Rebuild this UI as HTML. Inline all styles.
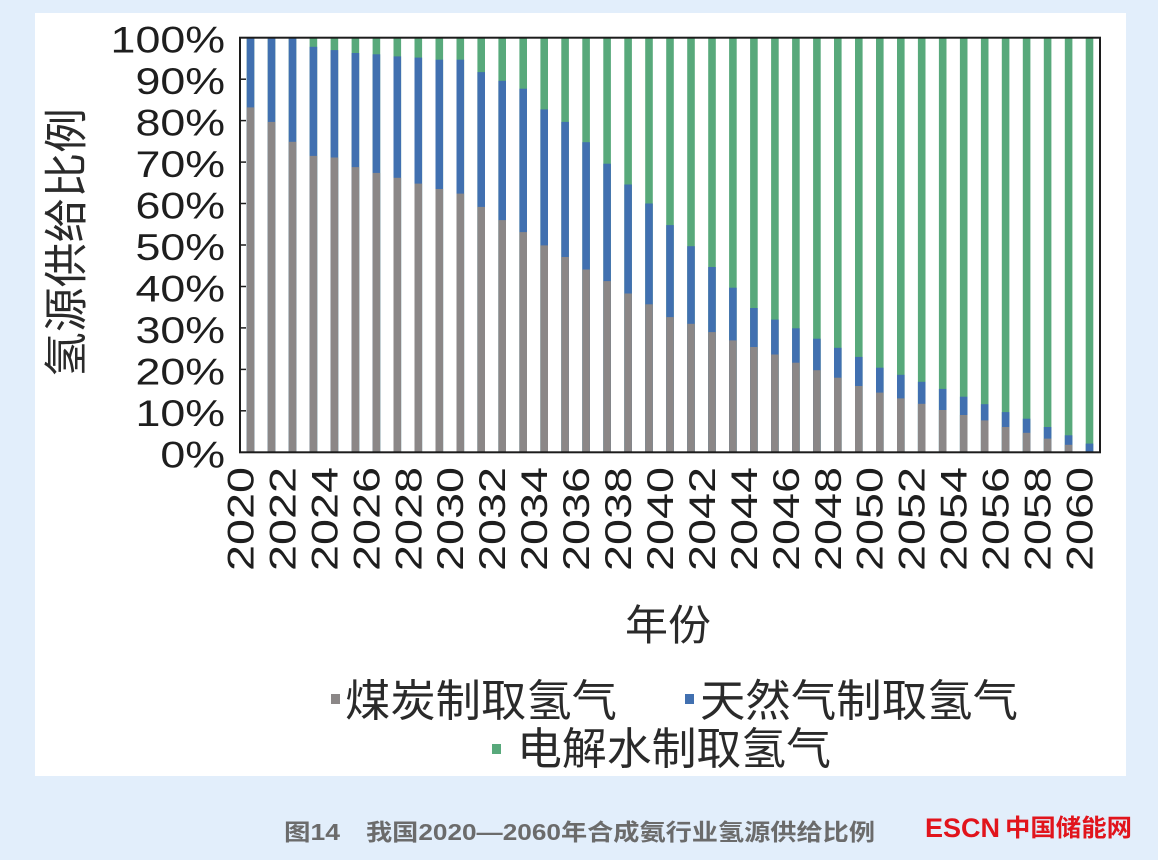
<!DOCTYPE html>
<html><head><meta charset="utf-8"><style>
html,body{margin:0;padding:0;background:#e2eefb;}
svg{display:block;}
.cjk{font-family:"Liberation Sans","Noto Sans CJK SC",sans-serif;}
.num{font-family:"Liberation Sans",sans-serif;}
</style></head><body>
<svg width="1158" height="860" viewBox="0 0 1158 860" xmlns="http://www.w3.org/2000/svg">
<rect x="0" y="0" width="1158" height="860" fill="#e2eefb"/>
<rect x="35" y="13" width="1091" height="763" fill="#ffffff"/>

<!-- green full bars -->
<g fill="#58a97b">
<rect x="246.7" y="37.7" width="7.6" height="414.6"/><rect x="267.7" y="37.7" width="7.6" height="414.6"/><rect x="288.7" y="37.7" width="7.6" height="414.6"/><rect x="309.6" y="37.7" width="7.6" height="414.6"/><rect x="330.6" y="37.7" width="7.6" height="414.6"/><rect x="351.6" y="37.7" width="7.6" height="414.6"/><rect x="372.6" y="37.7" width="7.6" height="414.6"/><rect x="393.5" y="37.7" width="7.6" height="414.6"/><rect x="414.5" y="37.7" width="7.6" height="414.6"/><rect x="435.5" y="37.7" width="7.6" height="414.6"/><rect x="456.5" y="37.7" width="7.6" height="414.6"/><rect x="477.4" y="37.7" width="7.6" height="414.6"/><rect x="498.4" y="37.7" width="7.6" height="414.6"/><rect x="519.4" y="37.7" width="7.6" height="414.6"/><rect x="540.4" y="37.7" width="7.6" height="414.6"/><rect x="561.3" y="37.7" width="7.6" height="414.6"/><rect x="582.3" y="37.7" width="7.6" height="414.6"/><rect x="603.3" y="37.7" width="7.6" height="414.6"/><rect x="624.3" y="37.7" width="7.6" height="414.6"/><rect x="645.2" y="37.7" width="7.6" height="414.6"/><rect x="666.2" y="37.7" width="7.6" height="414.6"/><rect x="687.2" y="37.7" width="7.6" height="414.6"/><rect x="708.2" y="37.7" width="7.6" height="414.6"/><rect x="729.1" y="37.7" width="7.6" height="414.6"/><rect x="750.1" y="37.7" width="7.6" height="414.6"/><rect x="771.1" y="37.7" width="7.6" height="414.6"/><rect x="792.1" y="37.7" width="7.6" height="414.6"/><rect x="813.1" y="37.7" width="7.6" height="414.6"/><rect x="834.0" y="37.7" width="7.6" height="414.6"/><rect x="855.0" y="37.7" width="7.6" height="414.6"/><rect x="876.0" y="37.7" width="7.6" height="414.6"/><rect x="897.0" y="37.7" width="7.6" height="414.6"/><rect x="917.9" y="37.7" width="7.6" height="414.6"/><rect x="938.9" y="37.7" width="7.6" height="414.6"/><rect x="959.9" y="37.7" width="7.6" height="414.6"/><rect x="980.9" y="37.7" width="7.6" height="414.6"/><rect x="1001.8" y="37.7" width="7.6" height="414.6"/><rect x="1022.8" y="37.7" width="7.6" height="414.6"/><rect x="1043.8" y="37.7" width="7.6" height="414.6"/><rect x="1064.8" y="37.7" width="7.6" height="414.6"/><rect x="1085.7" y="37.7" width="7.6" height="414.6"/>
</g>
<!-- blue -->
<g fill="#4170b0">
<rect x="246.7" y="37.7" width="7.6" height="414.6"/><rect x="267.7" y="37.7" width="7.6" height="414.6"/><rect x="288.7" y="37.7" width="7.6" height="414.6"/><rect x="309.6" y="46.8" width="7.6" height="405.5"/><rect x="330.6" y="50.1" width="7.6" height="402.2"/><rect x="351.6" y="53.0" width="7.6" height="399.3"/><rect x="372.6" y="54.3" width="7.6" height="398.0"/><rect x="393.5" y="56.4" width="7.6" height="395.9"/><rect x="414.5" y="57.6" width="7.6" height="394.7"/><rect x="435.5" y="59.7" width="7.6" height="392.6"/><rect x="456.5" y="59.7" width="7.6" height="392.6"/><rect x="477.4" y="72.1" width="7.6" height="380.2"/><rect x="498.4" y="80.8" width="7.6" height="371.5"/><rect x="519.4" y="88.7" width="7.6" height="363.6"/><rect x="540.4" y="109.4" width="7.6" height="342.9"/><rect x="561.3" y="121.9" width="7.6" height="330.4"/><rect x="582.3" y="142.2" width="7.6" height="310.1"/><rect x="603.3" y="163.7" width="7.6" height="288.6"/><rect x="624.3" y="184.5" width="7.6" height="267.8"/><rect x="645.2" y="203.5" width="7.6" height="248.8"/><rect x="666.2" y="225.1" width="7.6" height="227.2"/><rect x="687.2" y="246.2" width="7.6" height="206.1"/><rect x="708.2" y="267.0" width="7.6" height="185.3"/><rect x="729.1" y="287.7" width="7.6" height="164.6"/><rect x="750.1" y="308.0" width="7.6" height="144.3"/><rect x="771.1" y="319.6" width="7.6" height="132.7"/><rect x="792.1" y="328.3" width="7.6" height="124.0"/><rect x="813.1" y="338.7" width="7.6" height="113.6"/><rect x="834.0" y="347.8" width="7.6" height="104.5"/><rect x="855.0" y="356.9" width="7.6" height="95.4"/><rect x="876.0" y="367.7" width="7.6" height="84.6"/><rect x="897.0" y="374.8" width="7.6" height="77.5"/><rect x="917.9" y="381.8" width="7.6" height="70.5"/><rect x="938.9" y="388.9" width="7.6" height="63.4"/><rect x="959.9" y="396.7" width="7.6" height="55.6"/><rect x="980.9" y="404.2" width="7.6" height="48.1"/><rect x="1001.8" y="412.1" width="7.6" height="40.2"/><rect x="1022.8" y="418.7" width="7.6" height="33.6"/><rect x="1043.8" y="427.0" width="7.6" height="25.3"/><rect x="1064.8" y="435.3" width="7.6" height="17.0"/><rect x="1085.7" y="443.6" width="7.6" height="8.7"/>
</g>
<!-- gray -->
<g fill="#8b8787">
<rect x="246.7" y="107.4" width="7.6" height="344.9"/><rect x="267.7" y="121.9" width="7.6" height="330.4"/><rect x="288.7" y="141.8" width="7.6" height="310.5"/><rect x="309.6" y="155.9" width="7.6" height="296.4"/><rect x="330.6" y="157.5" width="7.6" height="294.8"/><rect x="351.6" y="167.1" width="7.6" height="285.2"/><rect x="372.6" y="172.9" width="7.6" height="279.4"/><rect x="393.5" y="177.8" width="7.6" height="274.5"/><rect x="414.5" y="183.6" width="7.6" height="268.7"/><rect x="435.5" y="189.0" width="7.6" height="263.3"/><rect x="456.5" y="193.6" width="7.6" height="258.7"/><rect x="477.4" y="206.9" width="7.6" height="245.4"/><rect x="498.4" y="220.1" width="7.6" height="232.2"/><rect x="519.4" y="232.1" width="7.6" height="220.2"/><rect x="540.4" y="245.4" width="7.6" height="206.9"/><rect x="561.3" y="257.0" width="7.6" height="195.3"/><rect x="582.3" y="269.5" width="7.6" height="182.8"/><rect x="603.3" y="281.1" width="7.6" height="171.2"/><rect x="624.3" y="293.5" width="7.6" height="158.8"/><rect x="645.2" y="304.3" width="7.6" height="148.0"/><rect x="666.2" y="317.1" width="7.6" height="135.2"/><rect x="687.2" y="323.8" width="7.6" height="128.5"/><rect x="708.2" y="332.1" width="7.6" height="120.2"/><rect x="729.1" y="340.4" width="7.6" height="111.9"/><rect x="750.1" y="347.0" width="7.6" height="105.3"/><rect x="771.1" y="354.5" width="7.6" height="97.8"/><rect x="792.1" y="362.7" width="7.6" height="89.6"/><rect x="813.1" y="370.2" width="7.6" height="82.1"/><rect x="834.0" y="377.7" width="7.6" height="74.6"/><rect x="855.0" y="386.0" width="7.6" height="66.3"/><rect x="876.0" y="392.6" width="7.6" height="59.7"/><rect x="897.0" y="398.4" width="7.6" height="53.9"/><rect x="917.9" y="403.8" width="7.6" height="48.5"/><rect x="938.9" y="410.0" width="7.6" height="42.3"/><rect x="959.9" y="415.0" width="7.6" height="37.3"/><rect x="980.9" y="420.4" width="7.6" height="31.9"/><rect x="1001.8" y="427.0" width="7.6" height="25.3"/><rect x="1022.8" y="432.8" width="7.6" height="19.5"/><rect x="1043.8" y="438.6" width="7.6" height="13.7"/><rect x="1064.8" y="444.8" width="7.6" height="7.5"/>
</g>

<!-- frame -->
<rect x="240" y="37.7" width="860" height="414.6" fill="none" stroke="#1c1c1c" stroke-width="2"/>
<g stroke="#1c1c1c" stroke-width="1.5">
<line x1="240" y1="79.2" x2="246" y2="79.2"/><line x1="240" y1="120.6" x2="246" y2="120.6"/><line x1="240" y1="162.1" x2="246" y2="162.1"/><line x1="240" y1="203.5" x2="246" y2="203.5"/><line x1="240" y1="245.0" x2="246" y2="245.0"/><line x1="240" y1="286.5" x2="246" y2="286.5"/><line x1="240" y1="327.9" x2="246" y2="327.9"/><line x1="240" y1="369.4" x2="246" y2="369.4"/><line x1="240" y1="410.8" x2="246" y2="410.8"/>
</g>

<!-- y labels -->
<g class="num" font-size="37" fill="#1e1e1e" text-anchor="end">
<text transform="translate(225,52.7) scale(1.21,1)">100%</text>
<text transform="translate(225,94.2) scale(1.21,1)">90%</text>
<text transform="translate(225,135.6) scale(1.21,1)">80%</text>
<text transform="translate(225,177.1) scale(1.21,1)">70%</text>
<text transform="translate(225,218.5) scale(1.21,1)">60%</text>
<text transform="translate(225,260.0) scale(1.21,1)">50%</text>
<text transform="translate(225,301.5) scale(1.21,1)">40%</text>
<text transform="translate(225,342.9) scale(1.21,1)">30%</text>
<text transform="translate(225,384.4) scale(1.21,1)">20%</text>
<text transform="translate(225,425.8) scale(1.21,1)">10%</text>
<text transform="translate(225,467.3) scale(1.21,1)">0%</text>
</g>

<!-- x labels -->
<g class="num" font-size="37" fill="#1e1e1e" text-anchor="end">
<text transform="translate(253.5,467) rotate(-90)" textLength="104" lengthAdjust="spacingAndGlyphs">2020</text>
<text transform="translate(295.4,467) rotate(-90)" textLength="104" lengthAdjust="spacingAndGlyphs">2022</text>
<text transform="translate(337.4,467) rotate(-90)" textLength="104" lengthAdjust="spacingAndGlyphs">2024</text>
<text transform="translate(379.3,467) rotate(-90)" textLength="104" lengthAdjust="spacingAndGlyphs">2026</text>
<text transform="translate(421.3,467) rotate(-90)" textLength="104" lengthAdjust="spacingAndGlyphs">2028</text>
<text transform="translate(463.2,467) rotate(-90)" textLength="104" lengthAdjust="spacingAndGlyphs">2030</text>
<text transform="translate(505.2,467) rotate(-90)" textLength="104" lengthAdjust="spacingAndGlyphs">2032</text>
<text transform="translate(547.1,467) rotate(-90)" textLength="104" lengthAdjust="spacingAndGlyphs">2034</text>
<text transform="translate(589.1,467) rotate(-90)" textLength="104" lengthAdjust="spacingAndGlyphs">2036</text>
<text transform="translate(631.0,467) rotate(-90)" textLength="104" lengthAdjust="spacingAndGlyphs">2038</text>
<text transform="translate(673.0,467) rotate(-90)" textLength="104" lengthAdjust="spacingAndGlyphs">2040</text>
<text transform="translate(714.9,467) rotate(-90)" textLength="104" lengthAdjust="spacingAndGlyphs">2042</text>
<text transform="translate(756.9,467) rotate(-90)" textLength="104" lengthAdjust="spacingAndGlyphs">2044</text>
<text transform="translate(798.8,467) rotate(-90)" textLength="104" lengthAdjust="spacingAndGlyphs">2046</text>
<text transform="translate(840.8,467) rotate(-90)" textLength="104" lengthAdjust="spacingAndGlyphs">2048</text>
<text transform="translate(882.7,467) rotate(-90)" textLength="104" lengthAdjust="spacingAndGlyphs">2050</text>
<text transform="translate(924.7,467) rotate(-90)" textLength="104" lengthAdjust="spacingAndGlyphs">2052</text>
<text transform="translate(966.6,467) rotate(-90)" textLength="104" lengthAdjust="spacingAndGlyphs">2054</text>
<text transform="translate(1008.6,467) rotate(-90)" textLength="104" lengthAdjust="spacingAndGlyphs">2056</text>
<text transform="translate(1050.5,467) rotate(-90)" textLength="104" lengthAdjust="spacingAndGlyphs">2058</text>
<text transform="translate(1092.5,467) rotate(-90)" textLength="104" lengthAdjust="spacingAndGlyphs">2060</text>
</g>

<!-- y title -->
<text class="cjk" transform="translate(81.5,242.5) rotate(-90)" font-size="44" fill="#2a2a2a" text-anchor="middle" textLength="269" lengthAdjust="spacingAndGlyphs">氢源供给比例</text>

<!-- x title -->
<text class="cjk" x="625" y="640" font-size="42" fill="#2a2a2a" textLength="86" lengthAdjust="spacingAndGlyphs">年份</text>

<!-- legend -->
<rect x="331" y="694" width="9" height="10" fill="#8b8787"/>
<text class="cjk" x="345" y="716" font-size="44" fill="#2a2a2a" textLength="272" lengthAdjust="spacingAndGlyphs">煤炭制取氢气</text>
<rect x="685" y="694" width="9" height="10" fill="#4170b0"/>
<text class="cjk" x="700" y="716" font-size="44" fill="#2a2a2a" textLength="318" lengthAdjust="spacingAndGlyphs">天然气制取氢气</text>
<rect x="492" y="744" width="9" height="10" fill="#58a97b"/>
<text class="cjk" x="517" y="764" font-size="44" fill="#2a2a2a" textLength="314" lengthAdjust="spacingAndGlyphs">电解水制取氢气</text>

<!-- caption -->
<text class="cjk" x="284" y="840" font-size="23" font-weight="bold" fill="#6b6b6b" textLength="56" lengthAdjust="spacingAndGlyphs">图14</text>
<text class="cjk" x="366" y="840" font-size="23" font-weight="bold" fill="#6b6b6b" textLength="509" lengthAdjust="spacingAndGlyphs">我国2020—2060年合成氨行业氢源供给比例</text>

<!-- logo -->
<text class="num" x="925" y="837" font-size="27" font-weight="bold" fill="#e1141c" textLength="75" lengthAdjust="spacingAndGlyphs">ESCN</text>
<text class="cjk" x="1005" y="836" font-size="24" font-weight="bold" fill="#e1141c" textLength="127" lengthAdjust="spacingAndGlyphs">中国储能网</text>
</svg>
</body></html>
